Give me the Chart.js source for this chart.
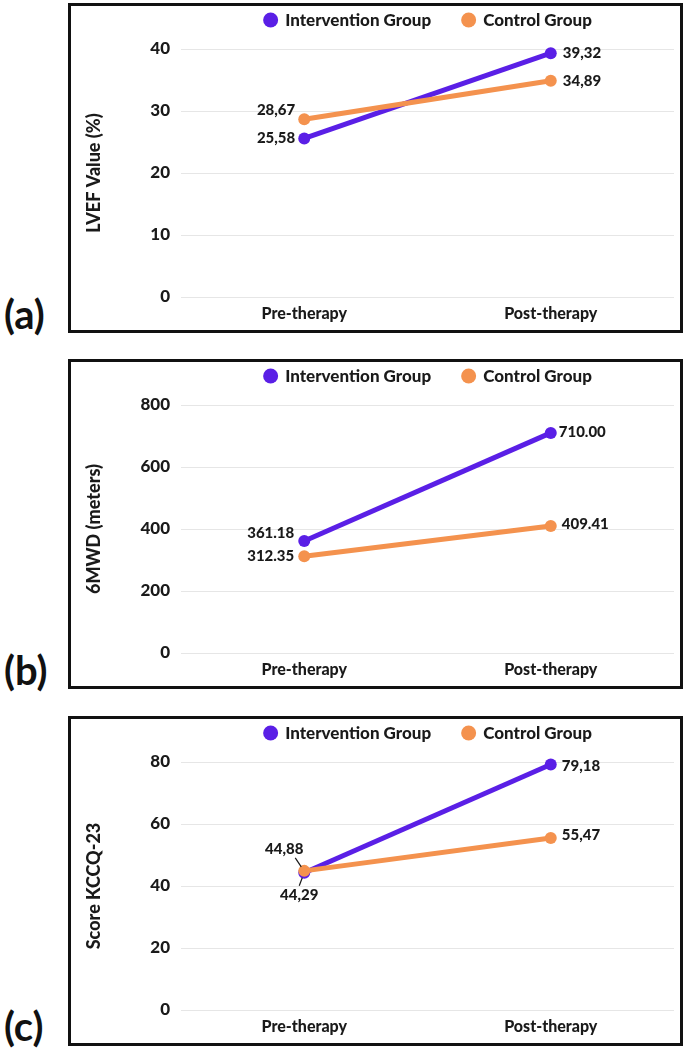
<!DOCTYPE html>
<html>
<head>
<meta charset="utf-8">
<script src="https://cdn.jsdelivr.net/npm/chart.js@4/dist/chart.umd.min.js"></script>
<style>
  body { margin: 0; background: #fff; width: 685px; height: 1051px; position: relative; overflow: hidden; }
  .panel { position: absolute; left: 68px; width: 615px; height: 330px; border: 3px solid #111; box-sizing: border-box; background: #fff; }
  .tag { position: absolute; left: 4px; font: 700 40px Lato, sans-serif; line-height: 40px; color: #111; }
</style>
</head>
<body>
<div class="tag" style="top:294px">(a)</div>
<div class="tag" style="top:650px">(b)</div>
<div class="tag" style="top:1006px">(c)</div>
<div class="panel" style="top:3px"><canvas id="chartA"></canvas></div>
<div class="panel" style="top:359px"><canvas id="chartB"></canvas></div>
<div class="panel" style="top:716px"><canvas id="chartC"></canvas></div>
<script>
const categories = ["Pre-therapy", "Post-therapy"];
const seriesNames = ["Intervention Group", "Control Group"];

const lvefIntervention = [25.58, 39.32];
const lvefControl = [28.67, 34.89];
const lvefTicks = [0, 10, 20, 30, 40];

const walkIntervention = [361.18, 710.0];
const walkControl = [312.35, 409.41];
const walkTicks = [0, 200, 400, 600, 800];

const kccqIntervention = [44.29, 79.18];
const kccqControl = [44.88, 55.47];
const kccqTicks = [0, 20, 40, 60, 80];

const colors = {
  intervention: "#5a1fe6",
  control: "#f4924e",
  text: "#1a1a1a",
  grid: "#e6e6e6",
};

const fontFamily = "Lato, 'Open Sans', sans-serif";
const heavy = 900;

// where each value label sits next to its point: [dataset][point]
const placesA = [
  [{ dx: -9, dy: 0, align: "right" }, { dx: 12, dy: 0, align: "left" }],
  [{ dx: -9, dy: -9, align: "right" }, { dx: 12, dy: 0, align: "left" }],
];
const placesB = [
  [{ dx: -10, dy: -8, align: "right" }, { dx: 8, dy: -1, align: "left" }],
  [{ dx: -10, dy: 0, align: "right" }, { dx: 11, dy: -2, align: "left" }],
];
const placesC = [
  [{ dx: -5, dy: 22, align: "center", leader: [-5, 13, -2, 5] }, { dx: 11, dy: 2, align: "left" }],
  [{ dx: -20, dy: -22, align: "center", leader: [-9, -13, -3, -4] }, { dx: 11, dy: -3, align: "left" }],
];

function makeLegend() {
  return {
    id: "dotLegend",
    afterDraw(chart) {
      const ctx = chart.ctx;
      const area = chart.chartArea;
      ctx.save();
      ctx.font = `${heavy} 17px ${fontFamily}`;
      const items = chart.data.datasets.map((ds) => ({
        text: ds.label,
        color: ds.borderColor,
        w: ctx.measureText(ds.label).width,
      }));
      const r = 7.5, gap = 7, itemGap = 30;
      const total =
        items.reduce((s, it) => s + r * 2 + gap + it.w, 0) +
        itemGap * (items.length - 1);
      let x = (area.left + area.right) / 2 - total / 2;
      const y = 14;
      ctx.textBaseline = "middle";
      ctx.textAlign = "left";
      items.forEach((it) => {
        ctx.fillStyle = it.color;
        ctx.beginPath();
        ctx.arc(x + r, y, r, 0, Math.PI * 2);
        ctx.fill();
        ctx.fillStyle = colors.text;
        ctx.fillText(it.text, x + r * 2 + gap, y + 1);
        x += r * 2 + gap + it.w + itemGap;
      });
      ctx.restore();
    },
  };
}

function makeLabels(places, decimalSep) {
  return {
    id: "valueLabels",
    afterDatasetsDraw(chart) {
      const ctx = chart.ctx;
      ctx.save();
      ctx.font = `${heavy} 15px ${fontFamily}`;
      ctx.fillStyle = colors.text;
      ctx.strokeStyle = colors.text;
      ctx.lineWidth = 1.2;
      ctx.textBaseline = "middle";
      chart.data.datasets.forEach((ds, di) => {
        const meta = chart.getDatasetMeta(di);
        meta.data.forEach((pt, i) => {
          const place = places[di][i];
          const text = ds.data[i].toFixed(2).replace(".", decimalSep);
          if (place.leader) {
            const [x1, y1, x2, y2] = place.leader;
            ctx.beginPath();
            ctx.moveTo(pt.x + x1, pt.y + y1);
            ctx.lineTo(pt.x + x2, pt.y + y2);
            ctx.stroke();
          }
          ctx.textAlign = place.align;
          ctx.fillText(text, pt.x + place.dx, pt.y + place.dy);
        });
      });
      ctx.restore();
    },
  };
}

function buildChart(canvasId, intervention, control, ticks, title, places, decimalSep) {
  const step = ticks[1] - ticks[0];
  const lineStyle = (color) => ({
    borderColor: color,
    backgroundColor: color,
    pointBackgroundColor: color,
    pointBorderColor: color,
    borderWidth: 5,
    pointRadius: 6,
    pointBorderWidth: 0,
    tension: 0,
    clip: false,
  });

  new Chart(document.getElementById(canvasId), {
    type: "line",
    data: {
      labels: categories,
      datasets: [
        { label: seriesNames[0], data: intervention, order: 1, ...lineStyle(colors.intervention) },
        { label: seriesNames[1], data: control, order: 0, ...lineStyle(colors.control) },
      ],
    },
    options: {
      responsive: true,
      maintainAspectRatio: false,
      animation: false,
      layout: { padding: { top: 43, right: 0, bottom: 0, left: 0 } },
      plugins: {
        legend: { display: false },
        tooltip: { enabled: false },
      },
      scales: {
        x: {
          offset: true,
          grid: { display: false, drawTicks: false },
          border: { display: false },
          ticks: {
            color: colors.text,
            padding: 7,
            font: { family: fontFamily, size: 16, weight: heavy },
          },
          afterFit: (scale) => {
            scale.height = 33;
          },
        },
        y: {
          min: ticks[0],
          max: ticks[ticks.length - 1],
          border: { display: false },
          grid: { color: colors.grid, lineWidth: 1, drawTicks: false },
          ticks: {
            stepSize: step,
            color: colors.text,
            padding: 11,
            font: { family: fontFamily, size: 17, weight: heavy },
          },
          title: {
            display: true,
            text: title,
            color: colors.text,
            padding: { top: 12, bottom: 0 },
            font: { family: fontFamily, size: 18, weight: heavy },
          },
          afterFit: (scale) => {
            scale.width = 110;
          },
        },
      },
    },
    plugins: [makeLegend(), makeLabels(places, decimalSep)],
  });
}

buildChart("chartA", lvefIntervention, lvefControl, lvefTicks, "LVEF Value (%)", placesA, ",");
buildChart("chartB", walkIntervention, walkControl, walkTicks, "6MWD (meters)", placesB, ".");
buildChart("chartC", kccqIntervention, kccqControl, kccqTicks, "Score KCCQ-23", placesC, ",");
</script>
</body>
</html>
